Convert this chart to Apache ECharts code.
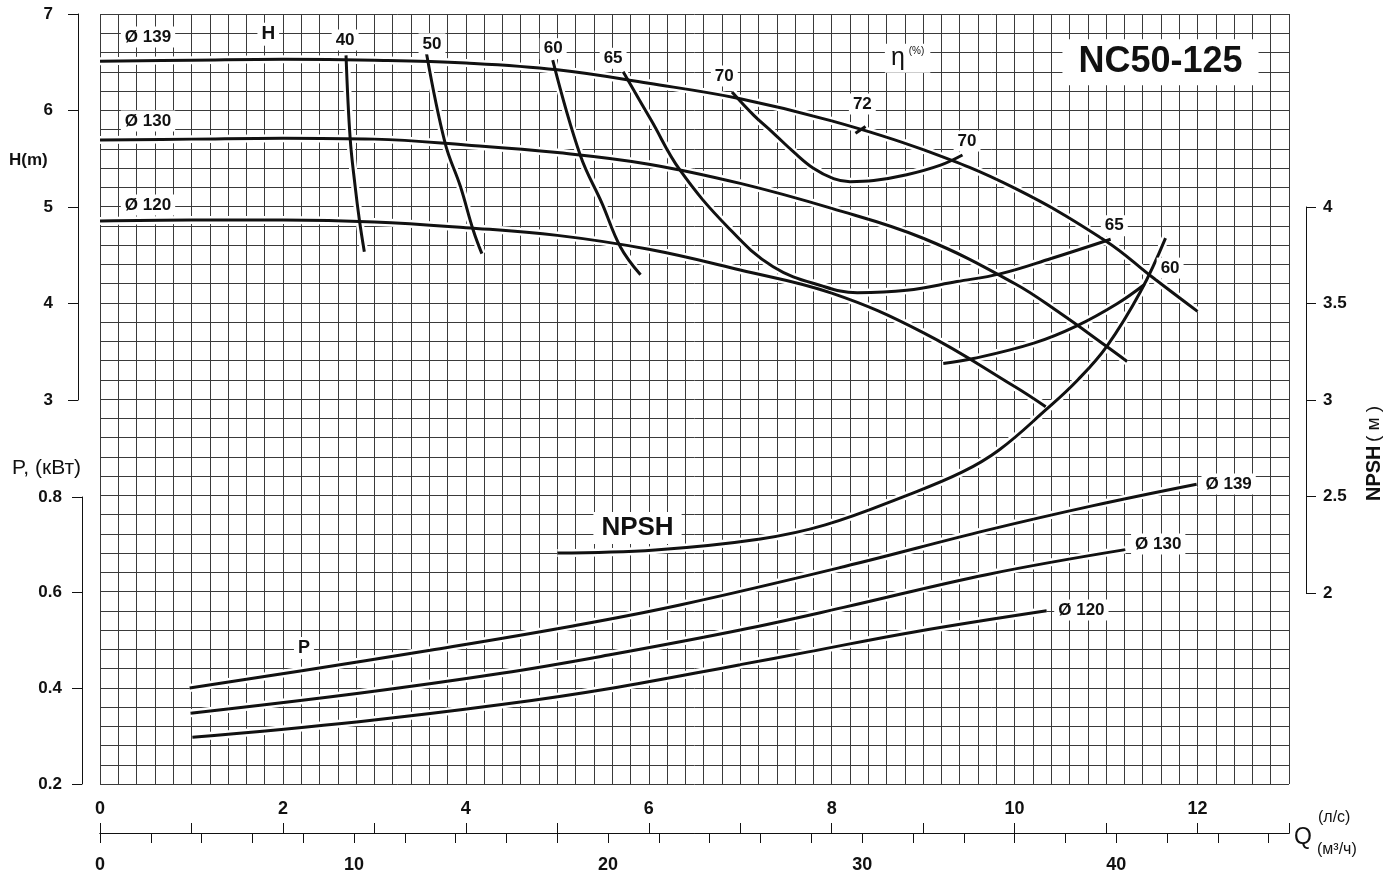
<!DOCTYPE html>
<html><head><meta charset="utf-8">
<script src="https://cdn.jsdelivr.net/npm/echarts@6/dist/echarts.min.js"></script>
<style>html,body{margin:0;padding:0;background:#fff}#c{width:1386px;height:876px}</style>
</head><body><div id="c"></div>
<script>
// ---------- DATA (Q in l/s) ----------
// Head curves H (m)
const head139 = [[0,6.51],[1,6.52],[2,6.53],[3,6.52],[4,6.49],[5,6.42],[6,6.28],[7,6.12],[8,5.89],[9,5.59],[10,5.19],[11,4.64],[11.5,4.27],[12,3.91]];
const head130 = [[0,5.69],[1,5.70],[2,5.71],[3,5.70],[4,5.64],[5,5.56],[6,5.44],[7,5.24],[8,4.98],[9,4.67],[10,4.20],[10.5,3.89],[11,3.55],[11.23,3.39]];
const head120 = [[0,4.85],[1,4.86],[2,4.86],[3,4.84],[4,4.78],[5,4.70],[6,4.555],[7,4.34],[8,4.10],[9,3.69],[10,3.13],[10.34,2.92]];
// Iso-efficiency curves (H, m)
const eff40 = [[2.69,6.57],[2.735,5.71],[2.79,5.206],[2.836,4.86],[2.89,4.53]];
const eff50 = [[3.57,6.59],[3.774,5.657],[3.94,5.21],[4.08,4.756],[4.175,4.51]];
const eff60L = [[4.95,6.52],[5.25,5.535],[5.49,5.03],[5.69,4.58],[5.91,4.29]];
const eff65 = [[5.72,6.40],[6.03,5.89],[6.34,5.38],[6.86,4.79],[7.36,4.375],[7.91,4.17],[8.28,4.105],[8.82,4.13],[9.37,4.22],[9.84,4.30],[10.4,4.46],[11.05,4.66]];
const eff70 = [[6.91,6.19],[7.146,5.95],[7.365,5.76],[7.58,5.57],[7.80,5.397],[8.02,5.29],[8.20,5.258],[8.46,5.27],[8.82,5.33],[9.19,5.43],[9.43,5.535]];
const eff72 = [[8.26,5.76],[8.37,5.83]];
const eff60R = [[9.22,3.37],[9.55,3.42],[10.21,3.58],[10.68,3.76],[11.12,3.99],[11.42,4.19]];
// NPSH (m)
const npsh = [[5.0,2.20],[6.07,2.216],[7.22,2.273],[7.93,2.346],[8.83,2.501],[9.43,2.621],[9.83,2.735],[10.34,2.943],[10.69,3.099],[11.01,3.275],[11.38,3.561],[11.65,3.836]];
// Power P (kW)
const pow139 = [[0.98,0.3995],[2.19,0.435],[3.61,0.478],[5.17,0.5285],[6.34,0.572],[8.13,0.6515],[9.69,0.727],[10.86,0.7785],[11.99,0.823]];
const pow130 = [[0.99,0.347],[2.83,0.3885],[4.39,0.430],[5.56,0.468],[7.0,0.520],[8.13,0.567],[9.69,0.635],[11.21,0.687]];
const pow120 = [[1.01,0.297],[2.83,0.3295],[4.39,0.365],[5.56,0.398],[7.0,0.448],[7.73,0.474],[8.9,0.516],[10.35,0.560]];
// Tick values
const qTicks = [0,1,2,3,4,5,6,7,8,9,10,11,12,13];
const qLabels = [0,2,4,6,8,10,12];
const m3Ticks = [0,2,4,6,8,10,12,14,16,18,20,22,24,26,28,30,32,34,36,38,40,42,44,46];
const m3Labels = [0,10,20,30,40];
// Annotations: text, Q, H-scale anchor, kind
const notes = [
  ['Ø 139',0.525,6.761,'dia'],['Ø 130',0.525,5.888,'dia'],['Ø 120',0.525,5.016,'dia'],
  ['H',1.84,6.79,'h'],
  ['40',2.68,6.73,'eff'],['50',3.63,6.69,'eff'],['60',4.955,6.64,'eff'],['65',5.61,6.54,'eff'],
  ['70',6.826,6.356,'eff'],['72',8.335,6.065,'eff'],['70',9.48,5.68,'eff'],['65',11.09,4.80,'eff'],['60',11.70,4.36,'eff'],
  ['η',8.83,6.54,'eta'],
  ['NC50-125',11.595,6.50,'title'],
  ['NPSH',5.877,1.66,'npsh'],
  ['P',2.23,0.413,'p'],
  ['Ø 139',12.34,2.117,'dia'],['Ø 130',11.57,1.494,'dia'],['Ø 120',10.73,0.808,'dia']
];

// ---------- CHART ----------
const FONT = '"Liberation Sans", Arial, sans-serif';
const INK = '#111';
const chart = echarts.init(document.getElementById('c'));

function curve(data, yIdx) {
  const base = {type:'line', xAxisIndex:0, yAxisIndex:yIdx, data:data, smooth:0.4,
    symbol:'none', silent:true, animation:false};
  return [
    Object.assign({}, base, {z:2, lineStyle:{color:'#fff', width:8}}),
    Object.assign({}, base, {z:3, lineStyle:{color:INK, width:3}})
  ];
}

const kindStyle = {
  dia:{fontSize:17, fontWeight:'bold'},
  h:{fontSize:19, fontWeight:'bold'},
  eff:{fontSize:17, fontWeight:'bold'},
  title:{fontSize:36, fontWeight:'bold', padding:[5,16]},
  npsh:{fontSize:26, fontWeight:'bold', padding:[3,8]},
  p:{fontSize:18, fontWeight:'bold'},
  eta:{formatter:'{a|η}{b|(%)}', padding:[2,6],
    rich:{a:{fontSize:25, fontFamily:FONT, color:INK, padding:[0,4,0,0]}, b:{fontSize:10, fontFamily:FONT, color:INK, verticalAlign:'top', padding:[0,0,8,0]}}}
};

const noteData = notes.map(n => ({
  value:[n[1], n[2]],
  label:Object.assign({show:true, position:'inside', formatter:n[0], color:INK, fontFamily:FONT,
    opacity:1, textBorderWidth:0, textShadowBlur:0,
    backgroundColor:'#fff', padding:[2,4]}, kindStyle[n[3]])
}));

let series = [];
[head139, head130, head120].forEach(d => series = series.concat(curve(d, 0)));
[eff40, eff50, eff60L, eff65, eff70, eff72, eff60R].forEach(d => series = series.concat(curve(d, 0)));
series = series.concat(curve(npsh, 2));
[pow139, pow130, pow120].forEach(d => series = series.concat(curve(d, 1)));
series.push({type:'scatter', xAxisIndex:0, yAxisIndex:0, data:noteData, symbol:'circle', symbolSize:1,
  itemStyle:{color:INK, opacity:1}, emphasis:{disabled:true}, z:10, silent:true, animation:false});

const lblBold = {color:INK, fontFamily:FONT, fontWeight:'bold', fontSize:17};
const hiddenX = g => ({type:'value', gridIndex:g, show:false, min:0, max:1});
const hiddenY = g => ({type:'value', gridIndex:g, show:false, min:0, max:1});

const option = {
  backgroundColor:'#fff',
  animation:false,
  grid:[
    {left:100, right:97, top:14, bottom:92, outerBoundsMode:'none'},            // 0 main
    {left:78, width:1, top:14, height:386, outerBoundsMode:'none'},             // 1 H axis
    {left:100, right:97, top:823, height:10, outerBoundsMode:'none'},           // 2 Q l/s
    {left:100, right:97, top:823, height:10, outerBoundsMode:'none'},           // 3 Q m3/h
    {left:82, width:1, top:497, height:287, outerBoundsMode:'none'},            // 4 P axis
    {left:1306, width:1, top:207, height:386, outerBoundsMode:'none'}           // 5 NPSH axis
  ],
  xAxis:[
    {type:'value', gridIndex:0, min:0, max:13, interval:0.2,
      axisLine:{show:false}, axisTick:{show:false}, axisLabel:{show:false},
      splitLine:{show:true, lineStyle:{color:'#3a3a3a', width:1}}},
    hiddenX(1),
    {type:'value', gridIndex:2, min:0, max:13, interval:1, position:'bottom',
      axisLine:{show:true, lineStyle:{color:INK, width:1}},
      axisTick:{show:true, inside:true, length:10, customValues:qTicks, lineStyle:{color:INK, width:1}},
      axisLabel:{show:true, inside:true, margin:15, customValues:qLabels,
        formatter:v => (v % 2 === 0 ? String(v) : ''), color:INK, fontFamily:FONT, fontWeight:'bold', fontSize:18},
      splitLine:{show:false}},
    {type:'value', gridIndex:3, min:0, max:46.8, interval:2, position:'bottom',
      axisLine:{show:true, lineStyle:{color:INK, width:1}},
      axisTick:{show:true, inside:false, length:10, customValues:m3Ticks, lineStyle:{color:INK, width:1}},
      axisLabel:{show:true, margin:23, customValues:m3Labels,
        formatter:v => (v % 10 === 0 ? String(v) : ''), color:INK, fontFamily:FONT, fontWeight:'bold', fontSize:18},
      splitLine:{show:false}},
    hiddenX(4), hiddenX(5)
  ],
  yAxis:[
    {type:'value', gridIndex:0, min:-1, max:7, interval:0.2,
      axisLine:{show:false}, axisTick:{show:false}, axisLabel:{show:false},
      splitLine:{show:true, lineStyle:{color:'#3a3a3a', width:1}}},
    {type:'value', gridIndex:0, min:0.2, max:1.8, show:false},
    {type:'value', gridIndex:0, min:1, max:5, show:false},
    {type:'value', gridIndex:1, min:3, max:7, interval:1, position:'left',
      axisLine:{show:true, lineStyle:{color:INK, width:1}},
      axisTick:{show:true, length:10, lineStyle:{color:INK, width:1}},
      axisLabel:Object.assign({margin:25}, lblBold), splitLine:{show:false}},
    hiddenY(2), hiddenY(3),
    {type:'value', gridIndex:4, min:0.2, max:0.8, interval:0.2, position:'left',
      axisLine:{show:true, lineStyle:{color:INK, width:1}},
      axisTick:{show:true, length:10, lineStyle:{color:INK, width:1}},
      axisLabel:Object.assign({margin:20, formatter:v => v.toFixed(1)}, lblBold), splitLine:{show:false}},
    {type:'value', gridIndex:5, min:2, max:4, interval:0.5, position:'right',
      axisLine:{show:true, lineStyle:{color:INK, width:1}},
      axisTick:{show:true, length:10, lineStyle:{color:INK, width:1}},
      axisLabel:Object.assign({margin:16}, lblBold), splitLine:{show:false}}
  ],
  graphic:[
    {type:'text', left:9, top:152, style:{text:'H(m)', fill:INK, font:'bold 17px ' + FONT}},
    {type:'text', left:12, top:458, style:{text:'P, (кВт)', fill:INK, font:'21px ' + FONT}},
    {type:'text', left:1294, top:826, style:{text:'Q', fill:INK, font:'23px ' + FONT}},
    {type:'text', left:1318, top:810, style:{text:'(л/с)', fill:INK, font:'16px ' + FONT}},
    {type:'text', left:1317, top:842, style:{text:'(м³/ч)', fill:INK, font:'16px ' + FONT}},
    {type:'text', x:1364, y:501, rotation:Math.PI/2,
      style:{text:'{a|NPSH} {b|( м )}', fill:INK,
        rich:{a:{font:'bold 20px ' + FONT, fill:INK}, b:{font:'19px ' + FONT, fill:INK}}}}
  ],
  series:series
};
chart.setOption(option);
</script>
</body></html>
